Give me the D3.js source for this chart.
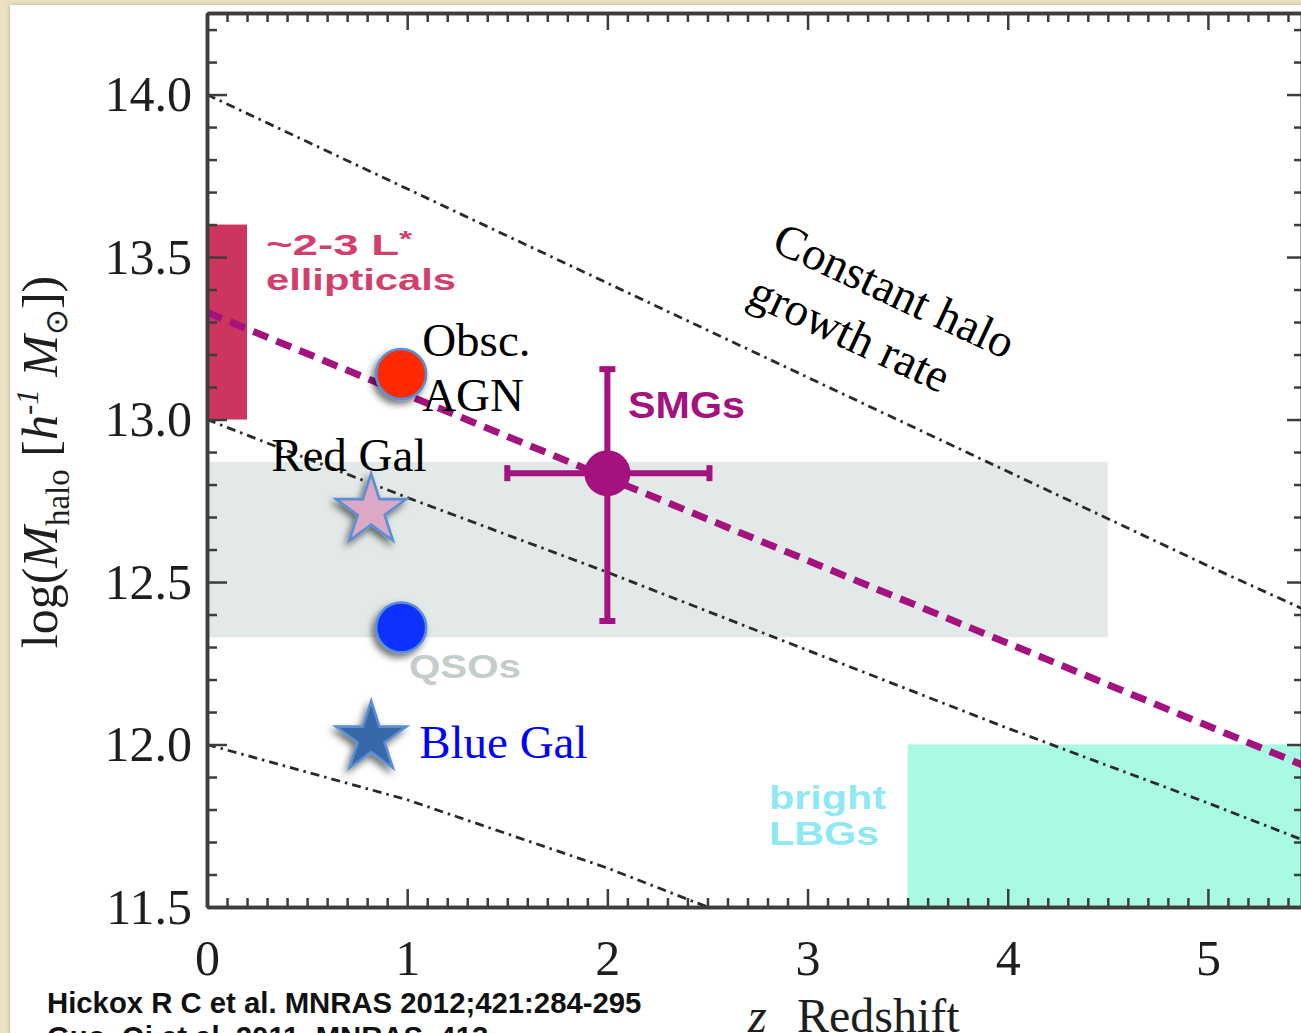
<!DOCTYPE html>
<html>
<head>
<meta charset="utf-8">
<script src="https://cdn.jsdelivr.net/npm/d3@7"></script>
<style>
  html, body { margin: 0; padding: 0; background: #ece2c2; overflow: hidden; }
  svg { display: block; }
</style>
</head>
<body>
<svg id="chart" width="1301" height="1033"></svg>
<script>
// ---- data: halo mass vs redshift ----
// constant halo growth-rate tracks (dot-dashed)
const growthZ    = [0, 1, 2, 3, 4, 5, 5.5];
const growthHigh = [14.0, 13.71, 13.42, 13.13, 12.84, 12.55, 12.41];
const growthMid  = [13.0, 12.76, 12.53, 12.29, 12.05, 11.82, 11.70];
const growthLow  = [12.0, 11.83, 11.62, 11.38, 11.14, 10.90, 10.78];

// SMG evolution track (magenta dashed)
const smgTrackZ = [0, 5.5];
const smgTrackM = [13.33, 11.93];

// shaded population ranges
const bandNames = ["ellipticals", "QSOs", "bright LBGs"];
const bandZ0 = [0.0, 0.0, 3.5];
const bandZ1 = [0.2, 4.5, 5.6];
const bandM0 = [13.0, 12.33, 11.5];
const bandM1 = [13.6, 12.87, 12.0];

// SMG measurement with error bars
const smgPoint = [2.0, 12.835];
const smgZRange = [1.5, 2.51];
const smgMRange = [12.38, 13.155];

// overplotted samples
const sampleNames = ["Obsc. AGN", "Red Gal", "QSO", "Blue Gal"];
const sampleZ = [0.97, 0.82, 0.97, 0.82];
const sampleM = [13.14, 12.72, 12.36, 12.02];

// axis ticks
const xMajor = [0, 1, 2, 3, 4, 5];
const xTickLabels = ["0", "1", "2", "3", "4", "5"];
const yMajor = [11.5, 12.0, 12.5, 13.0, 13.5, 14.0];
const yTickLabels = ["11.5", "12.0", "12.5", "13.0", "13.5", "14.0"];

// ---- layout ----
const W = 1301, H = 1033;
const plot = { left: 207, right: 1302, top: 13, bottom: 907 };

const x = d3.scaleLinear().domain([0, 5.47]).range([plot.left, plot.right]);
const y = d3.scaleLinear().domain([11.5, 14.251]).range([plot.bottom, plot.top]);

const svg = d3.select("#chart");
const defs = svg.append("defs");

defs.append("clipPath").attr("id", "plotClip")
  .append("rect")
  .attr("x", plot.left).attr("y", plot.top)
  .attr("width", plot.right - plot.left).attr("height", plot.bottom - plot.top);

const shadow = defs.append("filter").attr("id", "markShadow")
  .attr("x", "-50%").attr("y", "-50%").attr("width", "200%").attr("height", "200%");
shadow.append("feDropShadow")
  .attr("dx", -3).attr("dy", 4).attr("stdDeviation", 3.5)
  .attr("flood-color", "#000").attr("flood-opacity", 0.55);

const panelShadow = defs.append("filter").attr("id", "panelShadow")
  .attr("x", "-5%").attr("y", "-5%").attr("width", "110%").attr("height", "110%");
panelShadow.append("feDropShadow")
  .attr("dx", 0).attr("dy", 0).attr("stdDeviation", 2)
  .attr("flood-color", "#8a7d55").attr("flood-opacity", 0.6);

// parchment surround and white sheet
svg.append("rect").attr("width", W).attr("height", H).attr("fill", "#ece2c2");
svg.append("rect")
  .attr("x", 10).attr("y", 5).attr("width", W).attr("height", H)
  .attr("fill", "#ffffff").attr("filter", "url(#panelShadow)");

const plotArea = svg.append("g").attr("clip-path", "url(#plotClip)");

// ---- shaded ranges ----
const bandFill = { "ellipticals": "#cc355d", "QSOs": "#e3e8e8", "bright LBGs": "#a8fae2" };
plotArea.selectAll("rect.band")
  .data(bandNames)
  .join("rect")
  .attr("class", "band")
  .attr("x", (d, i) => x(bandZ0[i]))
  .attr("width", (d, i) => x(bandZ1[i]) - x(bandZ0[i]))
  .attr("y", (d, i) => y(bandM1[i]))
  .attr("height", (d, i) => y(bandM0[i]) - y(bandM1[i]))
  .attr("fill", d => bandFill[d]);

// band labels
const sansBold = "'Liberation Sans', Arial, sans-serif";
const ellLabel = svg.append("g").attr("font-family", sansBold).attr("font-weight", "bold")
  .attr("fill", "#d33f6c").attr("font-size", 30);
const ellTop = ellLabel.append("text").attr("x", 266).attr("y", 255)
  .attr("textLength", 146).attr("lengthAdjust", "spacingAndGlyphs");
ellTop.append("tspan").text("~2-3 L");
ellTop.append("tspan").attr("dy", -9).attr("font-size", 22).text("*");
ellLabel.append("text").attr("x", 266).attr("y", 290)
  .attr("textLength", 190).attr("lengthAdjust", "spacingAndGlyphs")
  .text("ellipticals");

svg.append("text").attr("x", 409).attr("y", 678)
  .attr("font-family", sansBold).attr("font-weight", "bold").attr("font-size", 34)
  .attr("fill", "#c4cccc")
  .attr("textLength", 112).attr("lengthAdjust", "spacingAndGlyphs")
  .text("QSOs");

const lbgLabel = svg.append("g").attr("font-family", sansBold).attr("font-weight", "bold")
  .attr("font-size", 34).attr("fill", "#8ee9f3");
lbgLabel.append("text").attr("x", 769).attr("y", 809)
  .attr("textLength", 117).attr("lengthAdjust", "spacingAndGlyphs").text("bright");
lbgLabel.append("text").attr("x", 769).attr("y", 845)
  .attr("textLength", 110).attr("lengthAdjust", "spacingAndGlyphs").text("LBGs");

// ---- constant growth-rate tracks ----
const trackLine = d3.line()
  .x(d => x(d[0]))
  .y(d => y(d[1]));

[growthHigh, growthMid, growthLow].forEach(vals => {
  plotArea.append("path")
    .datum(growthZ.map((z, i) => [z, vals[i]]))
    .attr("d", trackLine)
    .attr("fill", "none")
    .attr("stroke", "#2a2a2a")
    .attr("stroke-width", 2.8)
    .attr("stroke-dasharray", "9,5,2.5,5");
});

// SMG track
plotArea.append("path")
  .datum(smgTrackZ.map((z, i) => [z, smgTrackM[i]]))
  .attr("d", trackLine)
  .attr("fill", "none")
  .attr("stroke", "#a3127d")
  .attr("stroke-width", 7)
  .attr("stroke-dasharray", "16,9");

// ---- SMG point with error bars ----
const smgCol = "#a3127d";
const smg = svg.append("g").attr("stroke", smgCol).attr("stroke-width", 6).attr("fill", smgCol);
const [sx, sy] = [x(smgPoint[0]), y(smgPoint[1])];
smg.append("line").attr("x1", x(smgZRange[0])).attr("x2", x(smgZRange[1])).attr("y1", sy).attr("y2", sy);
smg.append("line").attr("x1", sx).attr("x2", sx).attr("y1", y(smgMRange[0])).attr("y2", y(smgMRange[1]));
[smgZRange[0], smgZRange[1]].forEach(z => {
  smg.append("line").attr("x1", x(z)).attr("x2", x(z)).attr("y1", sy - 8).attr("y2", sy + 8);
});
[smgMRange[0], smgMRange[1]].forEach(m => {
  smg.append("line").attr("x1", sx - 8).attr("x2", sx + 8).attr("y1", y(m)).attr("y2", y(m));
});
smg.append("circle").attr("cx", sx).attr("cy", sy).attr("r", 23).attr("stroke", "none");

svg.append("text").attr("x", 628).attr("y", 418)
  .attr("font-family", sansBold).attr("font-weight", "bold").attr("font-size", 36)
  .attr("fill", smgCol)
  .attr("textLength", 117).attr("lengthAdjust", "spacingAndGlyphs")
  .text("SMGs");

// ---- axes ----
const xMinor = d3.range(0, 55).map(i => i / 10).filter(v => !xMajor.includes(v));
const yMinor = d3.range(115, 143).map(i => i / 10).filter(v => !yMajor.includes(v));

const axisColor = "#3d3d3d";
function drawAxis(axis, tx, ty) {
  const g = svg.append("g").attr("transform", `translate(${tx},${ty})`).call(axis);
  g.select(".domain").attr("stroke", axisColor).attr("stroke-width", 3.5);
  g.selectAll(".tick line").attr("stroke", axisColor).attr("stroke-width", 2.5);
  g.attr("font-family", "'Liberation Serif', 'Times New Roman', serif").attr("font-size", 50);
  g.selectAll(".tick text").attr("fill", "#1e1e1e");
  return g;
}
// bottom
drawAxis(d3.axisBottom(x).tickValues(xMinor).tickSizeInner(-9).tickSizeOuter(0).tickFormat(""), 0, plot.bottom);
drawAxis(d3.axisBottom(x).tickValues(xMajor).tickSizeInner(-18).tickSizeOuter(0).tickPadding(32)
  .tickFormat((d, i) => xTickLabels[i]), 0, plot.bottom);
// top
drawAxis(d3.axisTop(x).tickValues(xMinor).tickSizeInner(-9).tickSizeOuter(0).tickFormat(""), 0, plot.top);
drawAxis(d3.axisTop(x).tickValues(xMajor).tickSizeInner(-17).tickSizeOuter(0).tickFormat(""), 0, plot.top);
// left
drawAxis(d3.axisLeft(y).tickValues(yMinor).tickSizeInner(-10).tickSizeOuter(0).tickFormat(""), plot.left, 0);
drawAxis(d3.axisLeft(y).tickValues(yMajor).tickSizeInner(-20).tickSizeOuter(0).tickPadding(15)
  .tickFormat((d, i) => yTickLabels[i]), plot.left, 0);
// right
drawAxis(d3.axisRight(y).tickValues(yMinor).tickSizeInner(-8).tickSizeOuter(0).tickFormat(""), plot.right, 0);
drawAxis(d3.axisRight(y).tickValues(yMajor).tickSizeInner(-15).tickSizeOuter(0).tickFormat(""), plot.right, 0);

// ---- axis titles ----
const serif = "'Liberation Serif', 'Times New Roman', serif";
const yTitle = svg.append("text")
  .attr("transform", "translate(57,462) rotate(-90)")
  .attr("text-anchor", "middle")
  .attr("font-family", serif).attr("font-size", 50).attr("fill", "#1e1e1e");
yTitle.append("tspan").text("log(");
yTitle.append("tspan").attr("font-style", "italic").text("M");
yTitle.append("tspan").attr("font-size", 33).attr("dy", 12).text("halo");
yTitle.append("tspan").attr("dy", -12).text(" [");
yTitle.append("tspan").attr("font-style", "italic").text("h");
yTitle.append("tspan").attr("font-size", 31).attr("font-style", "italic").attr("dy", -19).text("-1");
yTitle.append("tspan").attr("dy", 19).text(" ");
yTitle.append("tspan").attr("font-style", "italic").text("M");
yTitle.append("tspan").attr("font-size", 31).attr("dy", 10).text("\u2299");
yTitle.append("tspan").attr("dy", -10).text("])");

const xTitle = svg.append("text").attr("x", 748).attr("y", 1032)
  .attr("font-family", serif).attr("font-size", 48).attr("fill", "#1e1e1e");
xTitle.append("tspan").attr("font-style", "italic").text("z");
xTitle.append("tspan").attr("x", 797).text("Redshift");

// ---- track annotation ----
const note = svg.append("g").attr("transform", "translate(770,250) rotate(25)")
  .attr("font-family", serif).attr("font-size", 47).attr("fill", "#000");
note.append("text").attr("x", 0).attr("y", 0).text("Constant halo");
note.append("text").attr("x", 0).attr("y", 58).text("growth rate");

// ---- sample markers ----
const markFill = { "Obsc. AGN": "#ff2a00", "Red Gal": "#dba9c6", "QSO": "#0a32ff", "Blue Gal": "#3767aa" };
const markStroke = "#5b8fd2";
const starSize = 37 * 37 / 0.8908;

const marks = svg.append("g");
sampleNames.forEach((name, i) => {
  const cx = x(sampleZ[i]), cy = y(sampleM[i]);
  const isStar = name.endsWith("Gal");
  const shape = isStar
    ? marks.append("path").attr("d", d3.symbol().type(d3.symbolStar).size(starSize)())
        .attr("transform", `translate(${cx},${cy})`)
    : marks.append("circle").attr("cx", cx).attr("cy", cy).attr("r", 25);
  shape.attr("fill", markFill[name])
    .attr("stroke", markStroke)
    .attr("stroke-width", 2.6)
    .attr("stroke-linejoin", "miter")
    .attr("filter", "url(#markShadow)");
});

// sample labels, placed next to their markers
const labelG = svg.append("g").attr("font-family", serif).attr("font-size", 47);
{
  const ax = x(sampleZ[0]), ay = y(sampleM[0]);
  labelG.append("text").attr("x", ax + 21).attr("y", ay - 18).attr("fill", "#000").text("Obsc.");
  labelG.append("text").attr("x", ax + 21).attr("y", ay + 37).attr("fill", "#000").text("AGN");
  const rx = x(sampleZ[1]), ry = y(sampleM[1]);
  labelG.append("text").attr("x", rx - 100).attr("y", ry - 40).attr("fill", "#000").text("Red Gal");
  const bx = x(sampleZ[3]), by = y(sampleM[3]);
  labelG.append("text").attr("x", bx + 48).attr("y", by + 20).attr("fill", "#0000ff").text("Blue Gal");
}

// ---- references ----
const refs = svg.append("g").attr("font-family", sansBold).attr("font-weight", "bold")
  .attr("font-size", 29.3).attr("fill", "#111");
refs.append("text").attr("x", 47).attr("y", 1013).text("Hickox R C et al. MNRAS 2012;421:284-295");
refs.append("text").attr("x", 47).attr("y", 1047).text("Guo, Qi et al. 2011, MNRAS, 413");
</script>
</body>
</html>
